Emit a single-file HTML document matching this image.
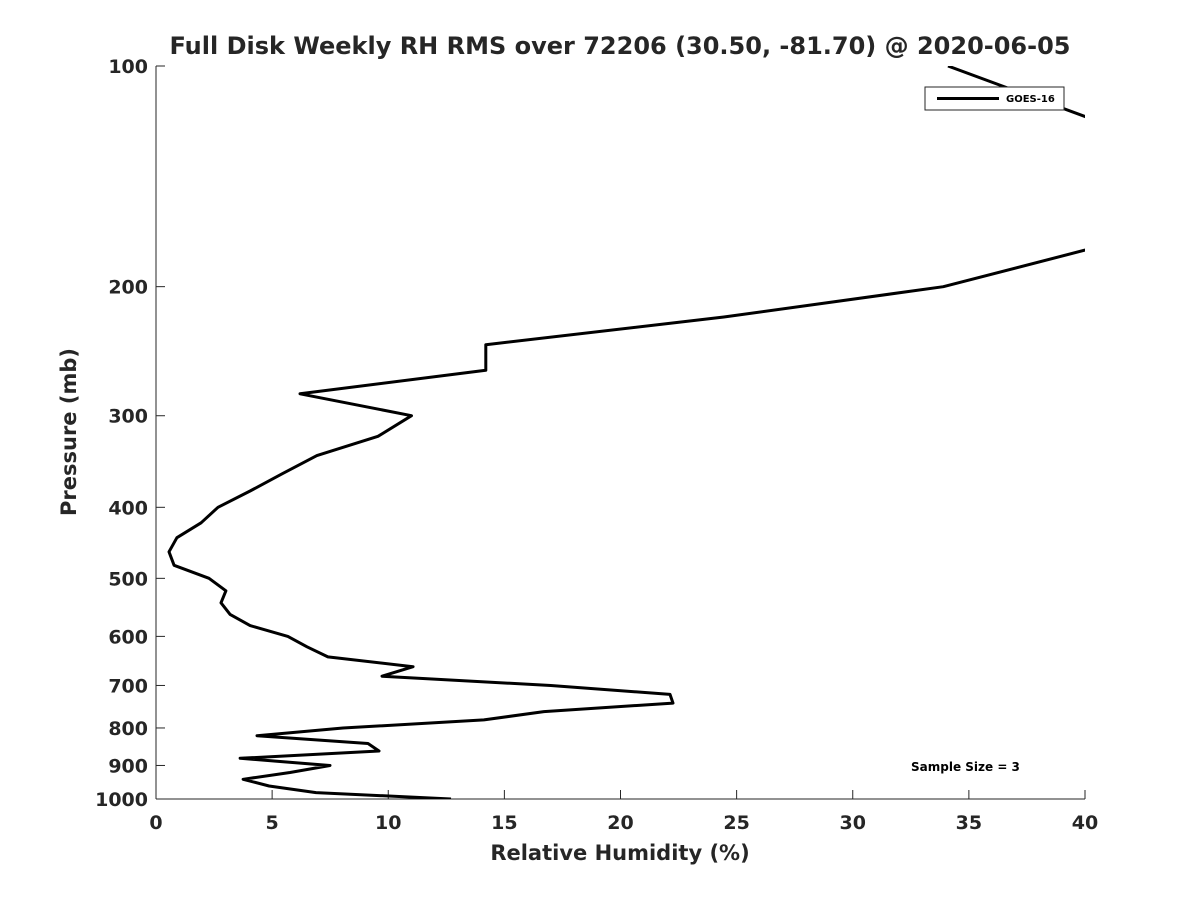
<!DOCTYPE html>
<html><head><meta charset="utf-8"><style>
body{margin:0;background:#fff;}
svg text{font-family:"DejaVu Sans","Liberation Sans",sans-serif;font-weight:bold;fill:#262626;}
</style></head><body>
<svg width="1200" height="900" viewBox="0 0 1200 900">
<defs><clipPath id="pc"><rect x="156" y="66" width="929" height="733"/></clipPath></defs>
<text x="620" y="54" font-size="24" text-anchor="middle">Full Disk Weekly RH RMS over 72206 (30.50, -81.70) @ 2020-06-05</text>
<g id="axes"></g>
<polyline id="line" fill="none" stroke="#000" stroke-width="3" stroke-linejoin="round" clip-path="url(#pc)"/>
<g>
<rect x="925" y="87" width="139" height="23" fill="#fff" stroke="#262626" stroke-width="1"/>
<line x1="937" y1="98.5" x2="999" y2="98.5" stroke="#000" stroke-width="3"/>
<text x="1006" y="102" font-size="10" style="fill:#000">GOES-16</text>
</g>
<text x="911" y="771" font-size="12" style="fill:#000">Sample Size = 3</text>
<text x="620" y="860" font-size="21" text-anchor="middle">Relative Humidity (%)</text>
<text transform="translate(76,432) rotate(-90)" font-size="21" text-anchor="middle">Pressure (mb)</text>
</svg>
<script>
const pressures=[100,125,150,175,200,220,240,260,280,300,320,340,360,380,400,420,440,460,480,500,520,540,560,580,600,620,640,660,680,700,720,740,760,780,800,820,840,860,880,900,920,940,960,980,1000];
const rhValues=[34.1,42.4,50,41.0,33.9,24.45,14.2,14.2,6.2,11.0,9.56,6.93,5.43,4.05,2.67,1.94,0.9,0.56,0.78,2.28,3.01,2.8,3.19,4.05,5.68,6.5,7.4,11.07,9.73,17.0,22.13,22.26,16.7,14.12,8.05,4.35,9.13,9.6,3.62,7.49,5.77,3.75,4.87,6.89,12.7];
const xTicks=[0,5,10,15,20,25,30,35,40];
const yTicks=[100,200,300,400,500,600,700,800,900,1000];
const X0=156,X1=1085,Y0=66,Y1=799;
const xs=v=>X0+(v/40)*(X1-X0);
const ys=p=>Y0+Math.log10(p/100)*(Y1-Y0);
const NS="http://www.w3.org/2000/svg";
const ax=document.getElementById('axes');
function mk(t,a){const e=document.createElementNS(NS,t);for(const k in a)e.setAttribute(k,a[k]);ax.appendChild(e);return e;}
let e=mk('line',{x1:X0,y1:Y0,x2:X0,y2:Y1,stroke:'#262626','stroke-width':1});


e=mk('line',{x1:X0,y1:Y1,x2:X1,y2:Y1,stroke:'#262626','stroke-width':1});


xTicks.forEach(v=>{
 mk('line',{x1:xs(v),y1:Y1,x2:xs(v),y2:Y1-9,stroke:'#262626','stroke-width':1});
 const t=mk('text',{x:xs(v),y:Y1+30,'font-size':19,'text-anchor':'middle'});
 t.textContent=v;
 
 
});
yTicks.forEach(p=>{
 mk('line',{x1:X0,y1:ys(p),x2:X0+9,y2:ys(p),stroke:'#262626','stroke-width':1});
 const t=mk('text',{x:X0-8,y:ys(p)+7,'font-size':19,'text-anchor':'end'});
 t.textContent=p;
 
 
});
document.getElementById('line').setAttribute('points',pressures.map((p,i)=>xs(rhValues[i]).toFixed(1)+','+ys(p).toFixed(1)).join(' '));
</script>
</body></html>
